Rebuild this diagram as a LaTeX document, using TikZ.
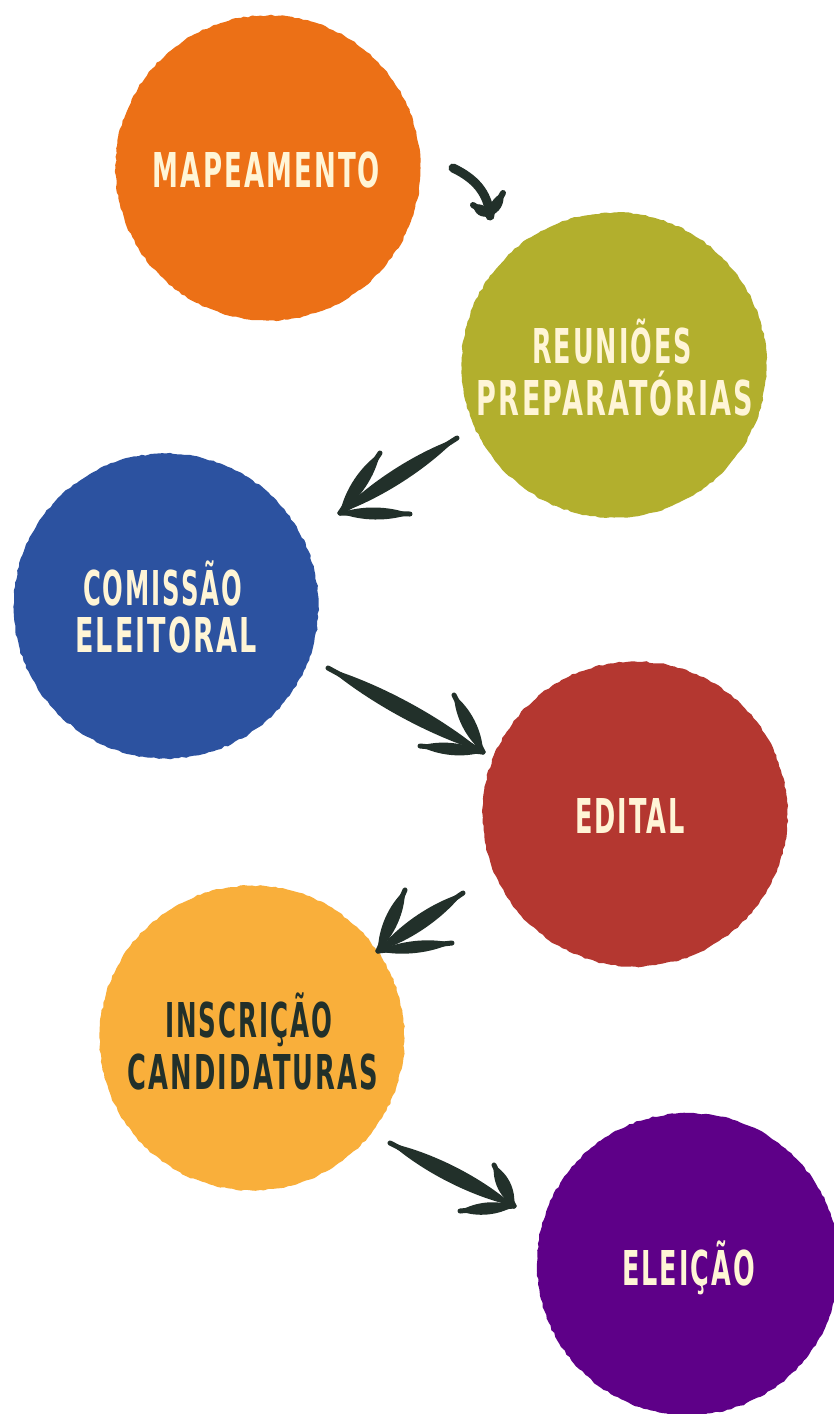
\documentclass[tikz,border=0pt]{standalone}
\usepackage{fontspec}
\usepackage{graphicx}
\usetikzlibrary{calc,decorations.pathmorphing}
\newfontfamily\lblfont{DejaVu Sans}[LetterSpace=8]
\definecolor{cOrange}{HTML}{EC7016}
\definecolor{cOlive}{HTML}{B2AF2D}
\definecolor{cBlue}{HTML}{2C52A0}
\definecolor{cRed}{HTML}{B43730}
\definecolor{cYellow}{HTML}{F9AF3B}
\definecolor{cPurple}{HTML}{5E0088}
\definecolor{cCream}{HTML}{FFF5D6}
\definecolor{cInk}{HTML}{22302A}
\newcommand\brushleaf[4]{%
  \fill[cInk] (#1) .. controls ($(#1)!0.3!(#2)!#3!90:(#2)$) and ($(#1)!0.7!(#2)!#3!90:(#2)$) .. (#2)
    .. controls ($(#1)!0.7!(#2)!#3!-90:(#2)$) and ($(#1)!0.3!(#2)!#3!-90:(#2)$) .. (#1) -- cycle;
  \draw[cInk, line width=#4, line cap=round] (#1) -- (#2);}
\newcommand\lbltext[2]{\resizebox{#1pt}{\height}{\fontsize{48}{48}\selectfont\lblfont\bfseries #2}}
\begin{document}
\begin{tikzpicture}[x=1pt, y=-1pt,
  blob/.style={circle, inner sep=0pt, minimum size=305pt, decorate,
    decoration={random steps, segment length=4pt, amplitude=0.8pt}},
  lbl/.style={inner sep=0pt, anchor=base, text=cCream},
  lbldark/.style={lbl, text=cInk}]
\pgfmathsetseed{11}
\useasboundingbox (0,0) rectangle (833,1414);
\fill[white] (0,0) rectangle (833,1414);
% circles
\node[blob, fill=cOrange] (c1) at (268,168) {};
\node[blob, fill=cOlive] (c2) at (614,365) {};
\node[blob, fill=cBlue] (c3) at (166,606) {};
\node[blob, fill=cRed] (c4) at (635,814) {};
\node[blob, fill=cYellow] (c5) at (252,1038) {};
\node[blob, fill=cPurple, minimum size=302pt] (c6) at (688,1264) {};
% labels
\node[lbl] (t1) at (266.5,187) {\lbltext{227}{MAPEAMENTO}};
\node[lbl] (t2a) at (612,363) {\lbltext{160}{REUNIÕES}};
\node[lbl] (t2b) at (615,415) {\lbltext{276}{PREPARATÓRIAS}};
\node[lbl] (t3a) at (162.5,605) {\lbltext{159}{COMISSÃO}};
\node[lbl] (t3b) at (166,652) {\lbltext{182}{ELEITORAL}};
\node[lbl] (t4) at (630,833) {\lbltext{110}{EDITAL}};
\node[lbldark] (t5a) at (248.5,1037) {\lbltext{167}{INSCRIÇÃO}};
\node[lbldark] (t5b) at (253,1089) {\lbltext{250}{CANDIDATURAS}};
\node[lbl] (t6) at (688.5,1285) {\lbltext{133}{ELEIÇÃO}};
% arrow 1
\coordinate (a1s) at (453,168);
\coordinate (a1h) at (490,216);
\coordinate (a1u) at (503,193);
\coordinate (a1l) at (473,205);
\draw[cInk, line width=9pt, line cap=round] (a1s) .. controls (474,178) and (488,192) .. (a1h);
\brushleaf{a1h}{a1u}{7pt}{6pt}
\brushleaf{a1h}{a1l}{7pt}{6pt}
% arrow 2
\coordinate (a2s) at (457,438);
\coordinate (a2h) at (340,513);
\coordinate (a2u) at (380,453);
\coordinate (a2l) at (410,514);
\brushleaf{a2s}{a2h}{10pt}{5pt}
\brushleaf{a2h}{a2u}{9pt}{5pt}
\brushleaf{a2h}{a2l}{8pt}{5pt}
% arrow 3
\coordinate (a3s) at (328,668);
\coordinate (a3h) at (483,752);
\coordinate (a3u) at (454,695);
\coordinate (a3l) at (420,746);
\brushleaf{a3s}{a3h}{11pt}{5pt}
\brushleaf{a3h}{a3u}{9pt}{5pt}
\brushleaf{a3h}{a3l}{8pt}{5pt}
% arrow 4
\coordinate (a4s) at (463,893);
\coordinate (a4h) at (378,951);
\coordinate (a4u) at (405,890);
\coordinate (a4l) at (452,943);
\brushleaf{a4s}{a4h}{10pt}{5pt}
\brushleaf{a4h}{a4u}{9pt}{5pt}
\brushleaf{a4h}{a4l}{8pt}{5pt}
% arrow 5
\coordinate (a5s) at (390,1143);
\coordinate (a5h) at (514,1206);
\coordinate (a5u) at (494,1165);
\coordinate (a5l) at (460,1211);
\brushleaf{a5s}{a5h}{11pt}{5pt}
\brushleaf{a5h}{a5u}{9pt}{5pt}
\brushleaf{a5h}{a5l}{8pt}{5pt}
\end{tikzpicture}
\end{document}
